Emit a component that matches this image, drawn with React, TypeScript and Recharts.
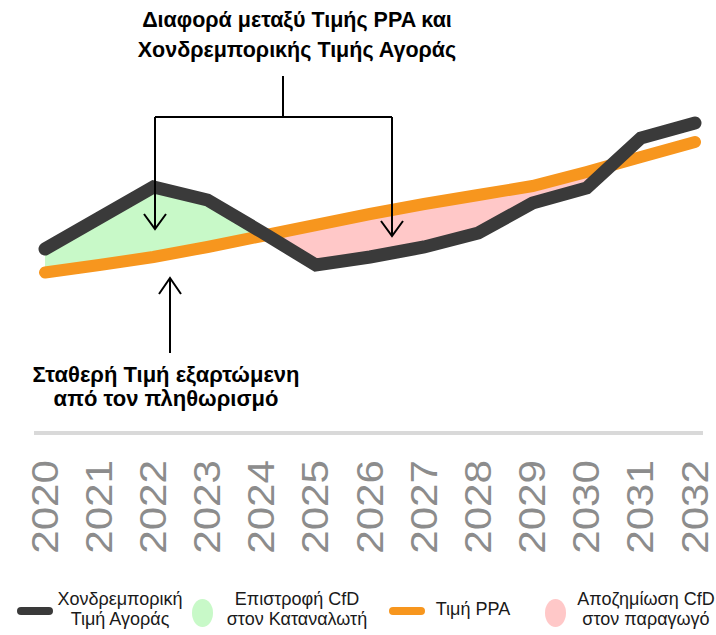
import React from 'react';
import { ComposedChart, Line, Area, XAxis, YAxis } from 'recharts';

const years = [2020, 2021, 2022, 2023, 2024, 2025, 2026, 2027, 2028, 2029, 2030, 2031, 2032];
// Χονδρεμπορική Τιμή Αγοράς
const marketPrice = [25.5, 41, 56.5, 50, 34, 17.5, 21.5, 26.5, 33.5, 48.5, 56, 81, 88.5];
// Τιμή PPA (inflation-indexed)
const ppaPrice = [13.75, 17.5, 21.5, 26.5, 32, 37.5, 43, 48, 52.5, 57, 64, 71.5, 79];
// shading stops at the crossing that follows this year
const shadeLastYear = 2030;

const legendItems = [
  { kind: 'line', color: '#3a3a3a', label: ['Χονδρεμπορική', 'Τιμή Αγοράς'] },
  { kind: 'dot', color: '#c8f9c8', label: ['Επιστροφή CfD', 'στον Καταναλωτή'] },
  { kind: 'line', color: '#f7961e', label: ['Τιμή PPA'] },
  { kind: 'dot', color: '#ffc8c8', label: ['Αποζημίωση CfD', 'στον παραγωγό'] },
];

const FONT = "'Liberation Sans', Arial, sans-serif";

// table with crossing points added so the fills meet the lines exactly
const buildTable = () => {
  const rows: any[] = [];
  for (let i = 0; i < years.length; i++) {
    rows.push({ x: years[i], market: marketPrice[i], ppa: ppaPrice[i] });
    if (i < years.length - 1) {
      const d0 = marketPrice[i] - ppaPrice[i];
      const d1 = marketPrice[i + 1] - ppaPrice[i + 1];
      if (d0 * d1 < 0) {
        const t = d0 / (d0 - d1);
        const v = marketPrice[i] + t * (marketPrice[i + 1] - marketPrice[i]);
        rows.push({ x: years[i] + t, market: v, ppa: v });
      }
    }
  }
  const shadeEnd = rows.find(r => r.x > shadeLastYear && r.market === r.ppa)?.x ?? Infinity;
  return rows.map(r => {
    const on = r.x <= shadeEnd;
    return {
      ...r,
      green: on && r.market > r.ppa ? [r.ppa, r.market] : [r.ppa, r.ppa],
      pink: on && r.market < r.ppa ? [r.market, r.ppa] : [r.ppa, r.ppa],
    };
  });
};

const YearTick = (props: any) => {
  const { x, y, payload } = props;
  return (
    <text
      transform={`translate(${x},${y + 27}) rotate(-90) scale(1.14,1)`}
      textAnchor="end"
      dy="0.34em"
      fill="#8c8c8c"
      fontSize={37}
      fontFamily={FONT}
    >
      {payload.value}
    </text>
  );
};

const Arrow = ({ x, y1, y2, up }: { x: number; y1: number; y2: number; up?: boolean }) => {
  const tip = up ? y1 : y2;
  const d = up ? 16 : -15;
  return (
    <g stroke="#000" strokeWidth={2} fill="none">
      <line x1={x} y1={y1} x2={x} y2={y2} />
      <polyline points={`${x - 11},${tip + d} ${x},${tip} ${x + 11},${tip + d}`} />
    </g>
  );
};

export default function App() {
  const data = buildTable();

  return (
    <div style={{ position: 'absolute', left: 0, top: 0, width: 716, height: 635, background: '#fff', fontFamily: FONT }}>
      <ComposedChart width={716} height={635} data={data} margin={{ top: 0, right: 13, bottom: 0, left: 34 }}>
        <XAxis
          dataKey="x"
          type="number"
          domain={[2020, 2032]}
          ticks={years}
          interval={0}
          padding={{ left: 11, right: 8 }}
          height={202}
          tickSize={0}
          tickMargin={0}
          tickLine={false}
          axisLine={{ stroke: '#d9d9d9', strokeWidth: 4 }}
          tick={<YearTick />}
        />
        <YAxis hide domain={[-66.5, 150]} type="number" />
        <Area dataKey="green" type="linear" stroke="none" fill="#c8f9c8" fillOpacity={1} isAnimationActive={false} />
        <Area dataKey="pink" type="linear" stroke="none" fill="#ffc8c8" fillOpacity={1} isAnimationActive={false} />
        <Line dataKey="ppa" type="linear" stroke="#f7961e" strokeWidth={12} strokeLinecap="round" dot={false} activeDot={false} isAnimationActive={false} />
        <Line dataKey="market" type="linear" stroke="#3a3a3a" strokeWidth={13} strokeLinecap="round" dot={false} activeDot={false} isAnimationActive={false} />
      </ComposedChart>

      <svg width={716} height={635} style={{ position: 'absolute', left: 0, top: 0, pointerEvents: 'none' }}>
        <g stroke="#000" strokeWidth={2} fill="none">
          <line x1={283} y1={76} x2={283} y2={117} />
          <line x1={155} y1={117} x2={392} y2={117} />
        </g>
        <Arrow x={155} y1={117} y2={229} />
        <Arrow x={392} y1={117} y2={236} />
        <Arrow x={170} y1={278} y2={353} up />
      </svg>

      <div style={{ position: 'absolute', left: 47, top: 5, width: 500, textAlign: 'center', fontWeight: 700, fontSize: 21.5, lineHeight: '30px', color: '#000', whiteSpace: 'nowrap' }}>
        Διαφορά μεταξύ Τιμής PPA και<br />Χονδρεμπορικής Τιμής Αγοράς
      </div>
      <div style={{ position: 'absolute', left: -84, top: 363, width: 500, textAlign: 'center', fontWeight: 700, fontSize: 22, lineHeight: '24px', color: '#000', whiteSpace: 'nowrap' }}>
        Σταθερή Τιμή εξαρτώμενη<br />από τον πληθωρισμό
      </div>

      {legendItems.map((item, i) => {
        const swatchX = [17, 192, 389, 545][i];
        const textCenter = [120, 297, 473, 646][i];
        const multi = item.label.length > 1;
        return (
          <React.Fragment key={i}>
            {item.kind === 'line' ? (
              <div style={{ position: 'absolute', left: swatchX, top: 607, width: 36, height: 8, borderRadius: 4, background: item.color }} />
            ) : (
              <div style={{ position: 'absolute', left: swatchX, top: 599, width: 21, height: 28, borderRadius: '50%', background: item.color }} />
            )}
            <div style={{ position: 'absolute', left: textCenter - 75, top: multi ? 589 : 599, width: 150, textAlign: 'center', fontSize: 18, lineHeight: '20px', color: '#1a1a1a', whiteSpace: 'nowrap' }}>
              {item.label.map((l, j) => <div key={j}>{l}</div>)}
            </div>
          </React.Fragment>
        );
      })}
    </div>
  );
}
